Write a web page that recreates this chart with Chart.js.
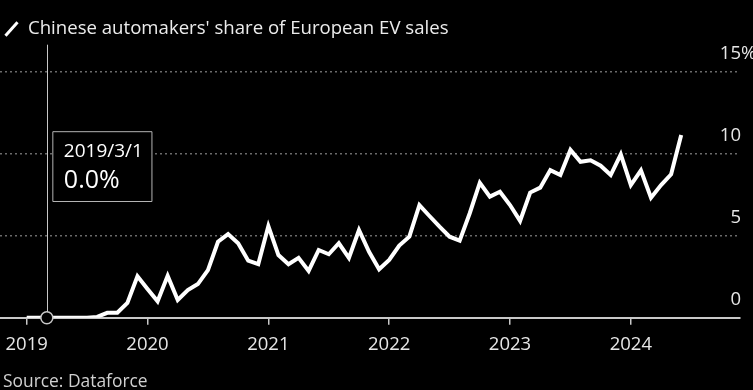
<!DOCTYPE html>
<html>
<head>
<meta charset="utf-8">
<title>Chinese automakers' share of European EV sales</title>
<script src="https://cdn.jsdelivr.net/npm/chart.js@4.4.1/dist/chart.umd.min.js"></script>
<style>
    html, body {
        margin: 0;
        padding: 0;
        background: #000;
        overflow: hidden;
    }
    .wrap {
        position: relative;
        width: 753px;
        height: 390px;
    }
    #share-chart {
        position: absolute;
        left: 0;
        top: 0;
    }
    .legend {
        position: absolute;
        left: 28px;
        top: 14px;
        font-family: "Open Sans", sans-serif;
        font-size: 18.6px;
        color: #ececec;
        white-space: nowrap;
    }
    .legend-icon {
        position: absolute;
        left: 10px;
        top: 20px;
        width: 3px;
        height: 18px;
        background: #fff;
        transform: rotate(42deg);
    }
    .source {
        position: absolute;
        left: 3px;
        top: 368px;
        font-family: "Open Sans", sans-serif;
        font-size: 17.4px;
        color: #d0d0d0;
    }
</style>
</head>
<body>
<div class="wrap">
    <canvas id="share-chart" width="753" height="390"></canvas>
    <span class="legend-icon"></span>
    <div class="legend">Chinese automakers' share of European EV sales</div>
    <div class="source">Source: Dataforce</div>
</div>
<script>
// Monthly share (%), starting January 2019
const startYear = 2019;
const shareValues = [
    0, 0, 0, 0, 0, 0, 0, 0.05, 0.3, 0.3, 0.9, 2.53,
    1.75, 1.0, 2.55, 1.08, 1.68, 2.05, 2.9, 4.63, 5.1, 4.54, 3.48, 3.27,
    5.59, 3.82, 3.26, 3.65, 2.85, 4.13, 3.87, 4.54, 3.65, 5.35, 4.02, 2.95,
    3.52, 4.4, 4.94, 6.87, 6.2, 5.55, 4.94, 4.7, 6.37, 8.23, 7.38, 7.68,
    6.87, 5.9, 7.63, 7.93, 9.0, 8.7, 10.23, 9.51, 9.6, 9.27, 8.7, 9.96,
    8.09, 8.98, 7.32, 8.09, 8.74, 11.14
];
const yearLabels = ['2019', '2020', '2021', '2022', '2023', '2024'];
const yTickValues = [0, 5, 10, 15];
const highlightIndex = 2; // 2019/3/1

const FONT = '"Open Sans", sans-serif';

function monthLabel(i) {
    return (startYear + Math.floor(i / 12)) + '/' + (i % 12 + 1) + '/1';
}

document.addEventListener('DOMContentLoaded', function() {
    initializeChart();
});

function initializeChart() {
    Chart.defaults.font.family = FONT;

    // Tooltip box sits at a fixed height, to the right of the hovered point
    Chart.Tooltip.positioners.fixedBox = function(elements) {
        if (!elements.length) return false;
        const el = elements[0].element;
        return { x: el.x + 6, y: this.chart.chartArea.top + 60 };
    };

    // Crosshair + hollow marker on the highlighted month
    const crosshair = {
        id: 'crosshair',
        afterDatasetsDraw(chart) {
            const pt = chart.getDatasetMeta(0).data[highlightIndex];
            if (!pt) return;
            const ctx = chart.ctx;
            ctx.save();
            ctx.strokeStyle = '#c8c8c8';
            ctx.lineWidth = 1;
            ctx.beginPath();
            ctx.moveTo(Math.round(pt.x) + 0.5, chart.chartArea.top - 27);
            ctx.lineTo(Math.round(pt.x) + 0.5, chart.chartArea.bottom);
            ctx.stroke();
            ctx.beginPath();
            ctx.arc(pt.x, pt.y, 6, 0, Math.PI * 2);
            ctx.fillStyle = '#000';
            ctx.fill();
            ctx.lineWidth = 1.5;
            ctx.strokeStyle = '#c8c8c8';
            ctx.stroke();
            ctx.restore();
        }
    };

    // Right-side value labels sitting above the grid lines
    const yLabels = {
        id: 'yLabels',
        afterDraw(chart) {
            const scale = chart.scales.y;
            const ctx = chart.ctx;
            ctx.save();
            ctx.font = '18.5px ' + FONT;
            ctx.fillStyle = '#e6e6e6';
            ctx.textBaseline = 'middle';
            scale.ticks.forEach(t => {
                const y = scale.getPixelForValue(t.value) - 18;
                ctx.textAlign = 'right';
                ctx.fillText(String(t.value), chart.chartArea.right + 1, y);
                if (t.value === 15) {
                    ctx.textAlign = 'left';
                    ctx.fillText('%', chart.chartArea.right + 1, y);
                }
            });
            ctx.restore();
        }
    };

    const canvas = document.getElementById('share-chart');
    const chart = new Chart(canvas, {
        type: 'line',
        data: {
            datasets: [{
                label: "Chinese automakers' share of European EV sales",
                data: shareValues.map((v, i) => ({ x: i, y: v })),
                borderColor: '#ffffff',
                borderWidth: 4,
                pointRadius: 0,
                pointHoverRadius: 0,
                tension: 0,
                borderJoinStyle: 'miter',
                fill: false
            }]
        },
        options: {
            responsive: false,
            devicePixelRatio: 1,
            animation: false,
            events: [],
            layout: {
                autoPadding: false,
                padding: { left: 0, right: 13, top: 71.7, bottom: 0 }
            },
            plugins: {
                legend: { display: false },
                tooltip: {
                    enabled: true,
                    position: 'fixedBox',
                    xAlign: 'left',
                    yAlign: 'top',
                    caretSize: 0,
                    caretPadding: 0,
                    cornerRadius: 0,
                    backgroundColor: '#000',
                    borderColor: '#b4b4b4',
                    borderWidth: 1,
                    displayColors: false,
                    padding: { left: 11, right: 9, top: 8, bottom: 6 },
                    titleColor: '#fff',
                    bodyColor: '#fff',
                    titleFont: { size: 19, weight: 'normal' },
                    bodyFont: { size: 25 },
                    titleMarginBottom: 3,
                    callbacks: {
                        title: items => monthLabel(items[0].dataIndex),
                        label: item => item.parsed.y.toFixed(1) + '%'
                    }
                }
            },
            scales: {
                x: {
                    type: 'linear',
                    min: -2.651,
                    max: 70.84,
                    afterBuildTicks: scale => {
                        scale.ticks = yearLabels.map((_, k) => ({ value: k * 12 }));
                    },
                    afterFit: scale => {
                        // labels fit inside the plot; keep the axis flush with the canvas edges
                        scale.height = 72.3;
                        scale.paddingLeft = 0;
                        scale.paddingRight = 0;
                    },
                    ticks: {
                        autoSkip: false,
                        maxRotation: 0,
                        color: '#e6e6e6',
                        font: { size: 18.5 },
                        padding: 9,
                        callback: value => yearLabels[Math.round(value / 12)]
                    },
                    grid: {
                        drawOnChartArea: false,
                        drawTicks: true,
                        tickLength: 7,
                        color: '#c8c8c8',
                        lineWidth: 1.5
                    },
                    border: {
                        display: true,
                        color: '#c8c8c8',
                        width: 2
                    }
                },
                y: {
                    position: 'right',
                    min: 0,
                    max: 15,
                    afterBuildTicks: scale => {
                        scale.ticks = yTickValues.map(v => ({ value: v }));
                    },
                    afterFit: scale => {
                        scale.width = 0;
                    },
                    ticks: { display: false },
                    grid: {
                        drawTicks: false,
                        lineWidth: 1.5,
                        color: ctx => (ctx.tick && ctx.tick.value === 0) ? 'rgba(0,0,0,0)' : '#6a6a6a'
                    },
                    border: {
                        display: false,
                        dash: [2, 3]
                    }
                }
            }
        },
        plugins: [crosshair, yLabels]
    });

    // Pin the tooltip on the highlighted month
    chart.tooltip.setActiveElements([{ datasetIndex: 0, index: highlightIndex }], { x: 0, y: 0 });
    chart.update('none');
}
</script>
</body>
</html>
